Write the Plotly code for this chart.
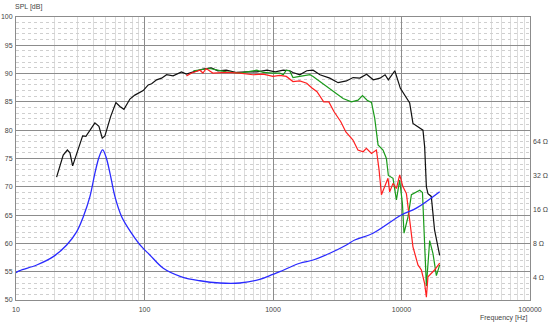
import plotly.graph_objects as go

# ---- data ----
black_f = [20.7, 23.3, 25.1, 26.3, 27.6, 29.7, 33.0, 35.0, 37.6, 41.1, 44.2, 46.9, 49.2, 54.5, 59.9,
           64.4, 69.2, 77.0, 84.1, 97.7, 106.9, 113.6, 124.2, 135.8, 148.6, 167, 194, 212, 240, 285,
           331, 373, 433, 520, 624, 749, 899, 1040, 1201, 1348, 1430, 1616, 1830, 2050, 2320, 2766,
           3210, 3728, 4200, 4740, 5350, 6030, 6800, 7450, 7900, 8870, 9800, 10600, 11580, 12280,
           14690, 15140, 15620, 16070, 17050, 18080, 19820]
black_db = [71.7, 75.6, 76.5, 76.0, 73.7, 75.9, 79.0, 78.9, 79.9, 81.3, 80.7, 78.6, 79.0, 82.4, 84.9,
            84.2, 83.7, 85.5, 86.2, 87.0, 88.0, 88.2, 88.9, 89.2, 89.8, 89.6, 90.3, 89.9, 90.3, 90.8,
            91.0, 90.5, 90.6, 90.2, 90.3, 90.3, 90.6, 90.3, 90.6, 90.5, 90.2, 89.8, 90.5, 90.6, 89.8, 89.2,
            88.4, 88.7, 89.3, 89.2, 89.9, 88.9, 89.2, 89.8, 88.9, 90.5, 87.4, 86.2, 84.8, 81.2,
            80.0, 77.1, 70.0, 68.8, 68.3, 62.4, 57.9]

red_f = [212, 233, 270, 285, 302, 340, 433, 552, 698, 837, 1000, 1129, 1270, 1430, 1616, 1830, 2000,
         2200, 2480, 2720, 2980, 3370, 3690, 4180, 4580, 5030, 5330, 5840, 6380, 6690, 6980, 7400,
         7850, 8090, 8590, 9130, 9680, 10270, 10920, 11580, 12280, 13430, 14280, 15140, 15620, 16070,
         17050, 18080, 19820]
red_db = [89.6, 90.1, 90.6, 90.1, 90.9, 90.1, 90.2, 90.1, 89.8, 89.9, 89.5, 89.7, 89.5, 88.6, 88.7, 88.3, 87.5,
          86.8, 85.0, 85.0, 83.3, 81.5, 79.7, 78.3, 76.5, 76.2, 76.8, 75.9, 76.5, 73.0, 68.6, 70.0,
          71.5, 69.1, 70.6, 69.7, 72.1, 70.0, 68.8, 64.1, 59.4, 56.2, 55.3, 52.9, 50.5, 54.1,
          54.7, 55.3, 56.5]

green_f = [240, 322, 433, 552, 749, 837, 1000, 1129, 1201, 1270, 1348, 1430, 1616, 1940, 2050, 2480,
           2980, 3510, 4075, 4590, 4970, 5400, 5840, 6190, 6570, 7180, 7630, 7900, 8590, 9130, 9680,
           10160, 10460, 11240, 11940, 13050, 13870, 14560, 15140, 15620, 16570, 17580, 18680, 19820]
green_db = [90.5, 90.9, 90.3, 90.1, 90.6, 90.2, 90.1, 90.1, 89.8, 90.6, 90.5, 89.3, 89.5, 89.8, 89.5, 88.1,
            86.8, 85.6, 85.0, 85.3, 86.1, 85.3, 84.9, 82.1, 77.4, 76.5, 75.0, 72.0, 71.5, 67.7, 71.2,
            67.1, 61.8, 64.7, 68.6, 69.1, 69.4, 69.0, 60.3, 52.5, 60.5, 58.2, 54.3, 56.2]

imp_f = [10, 10.7, 14.5, 19.5, 24.8, 29.7, 33.4, 37.6, 41.1, 44.4, 47.2, 50.1, 53.9, 58.9, 66.4, 79.4,
         94.9, 110, 140, 194, 270, 386, 552, 789, 996, 1129, 1616, 2050, 2766, 3728, 4324, 6000,
         9970, 13050, 19820]
imp_ohm = [4.46, 4.65, 5.21, 6.18, 7.84, 10.3, 13.96, 21.0, 33.8, 47.4, 54.4, 47.4, 33.8, 21.0, 13.96, 9.95,
           7.57, 6.40, 4.88, 4.10, 3.78, 3.61, 3.61, 3.88, 4.3, 4.55, 5.40, 5.77, 6.62, 7.84, 8.67, 9.95,
           14.45, 16.6, 23.2]

x_ticks = [10, 100, 1000, 10000, 100000]
x_ticktext = ["10", "100", "1000", "10000", "100000"]
y_ticks = [50, 55, 60, 65, 70, 75, 80, 85, 90, 95, 100]
ohm_ticks = [4, 8, 16, 32, 64]
ohm_ticktext = ["4 Ω", "8 Ω", "16 Ω", "32 Ω", "64 Ω"]

minor_x = [m * d for d in (10, 100, 1000, 10000) for m in range(2, 10)]

fig = go.Figure()
fig.add_trace(go.Scatter(x=imp_f, y=imp_ohm, mode="lines", line=dict(color="#2a2aff", width=1.3),
                         yaxis="y2", line_shape="spline", hoverinfo="skip"))
fig.add_trace(go.Scatter(x=black_f, y=black_db, mode="lines", line=dict(color="#111111", width=1.2)))
fig.add_trace(go.Scatter(x=green_f, y=green_db, mode="lines", line=dict(color="#1a9a1a", width=1.2)))
fig.add_trace(go.Scatter(x=red_f, y=red_db, mode="lines", line=dict(color="#ff2020", width=1.2)))

font = dict(family="Liberation Sans, Arial, sans-serif", size=7, color="#444444")

fig.update_layout(
    width=550, height=325,
    margin=dict(l=16, r=20, t=17, b=25),
    paper_bgcolor="white", plot_bgcolor="white",
    showlegend=False,
    font=font,
    xaxis=dict(type="log", range=[1, 5], tickvals=x_ticks, ticktext=x_ticktext,
               showgrid=True, gridcolor="#8c8c8c", gridwidth=1, automargin=False,
               minor=dict(tickvals=minor_x, showgrid=True, gridcolor="#dcdcdc", gridwidth=1, ticks=""),
               showline=True, linecolor="#8c8c8c", mirror=True, ticks="", zeroline=False,
               tickfont=font, ticklabelstandoff=3),
    yaxis=dict(range=[50, 100], tickvals=y_ticks, showgrid=True, gridcolor="#8c8c8c", gridwidth=1,
               minor=dict(dtick=1, showgrid=True, gridcolor="#cfcfcf", griddash="dot", gridwidth=1),
               showline=True, linecolor="#8c8c8c", mirror=True, ticks="", zeroline=False,
               tickfont=font, ticklabelstandoff=1, automargin=False),
    yaxis2=dict(type="log", range=[0.407, 2.913], overlaying="y", side="right",
                tickvals=ohm_ticks, ticktext=ohm_ticktext, showgrid=False, zeroline=False,
                showline=False, ticks="", tickfont=font, ticklabelstandoff=2, automargin=False),
    annotations=[
        dict(text="SPL [dB]", xref="paper", yref="paper", x=-0.006, y=1.0, yshift=10,
             xanchor="left", yanchor="middle", showarrow=False, font=font),
        dict(text="Frequency [Hz]", xref="paper", yref="paper", x=1.0, y=0, yshift=-18,
             xanchor="right", yanchor="middle", showarrow=False, font=font),
    ],
)

fig.write_html("out.html")
